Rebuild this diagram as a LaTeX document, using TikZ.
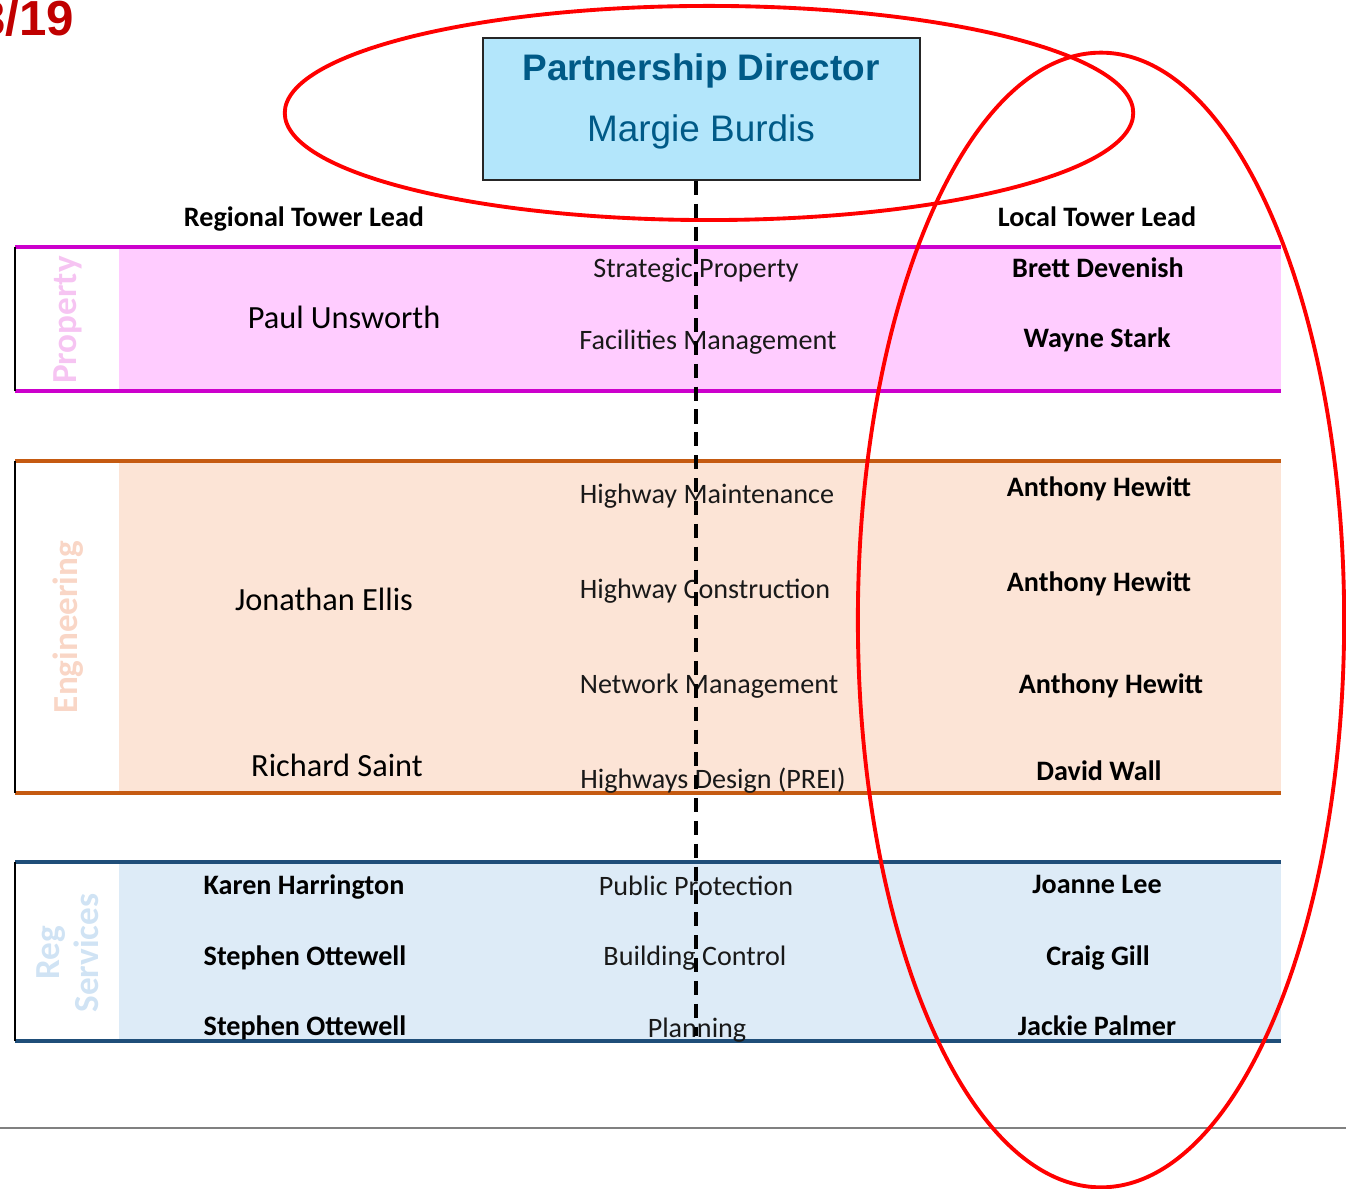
\documentclass[tikz,border=0pt]{standalone}
\usepackage{fontspec}
\setmainfont{Carlito}
\newfontfamily\arialfont{Liberation Sans}

\definecolor{propline}{HTML}{CC00CC}
\definecolor{propfill}{HTML}{FFCCFF}
\definecolor{proptext}{HTML}{F6C4F2}
\definecolor{engline}{HTML}{C55A11}
\definecolor{engfill}{HTML}{FCE4D6}
\definecolor{engtext}{HTML}{F9D6C6}
\definecolor{regline}{HTML}{1F4E79}
\definecolor{regfill}{HTML}{DDEBF7}
\definecolor{regtext}{HTML}{D0E3F4}
\definecolor{dirfill}{HTML}{B3E6FB}
\definecolor{dirtext}{HTML}{005A87}
\definecolor{pagered}{HTML}{C00000}

\begin{document}
\begin{tikzpicture}[x=0.01cm, y=-0.01cm,
    txt/.style={inner sep=0pt, text height=0.64em, text depth=0pt},
    person/.style={txt, font=\fontsize{9.2}{11}\selectfont},
    job/.style={txt, font=\fontsize{8}{10}\selectfont, text=black!90},
    lead/.style={txt, font=\bfseries\fontsize{8}{10}\selectfont},
    side/.style={inner sep=0pt, align=center, rotate=90, font=\bfseries\fontsize{10}{11}\selectfont},
    redring/.style={draw=red, line width=1.1pt}]

        \useasboundingbox (0,0) rectangle (1346,1189);

        %Page number
        \node [anchor=base east, inner sep=0pt, text=pagered, font=\arialfont\bfseries\fontsize{14}{14}\selectfont] (page) at (75,36) {3/19};

        %Drawing Property band
        \fill [propfill] (119,248) rectangle (1281,391);
        \draw [propline, line width=0.9pt] (15,247) -- (1281,247);
        \draw [propline, line width=0.9pt] (15,391) -- (1281,391);
        \draw [line width=0.6pt] (15,247) -- (15,391);
        \node [side, text=proptext] (sprop) at (68,320) {Property};

        %Drawing Engineering band
        \fill [engfill] (119,462) rectangle (1281,792);
        \draw [engline, line width=0.9pt] (15,461) -- (1281,461);
        \draw [engline, line width=0.9pt] (15,793) -- (1281,793);
        \draw [line width=0.6pt] (15,461) -- (15,793);
        \node [side, text=engtext] (seng) at (68,627) {Engineering};

        %Drawing Reg Services band
        \fill [regfill] (119,863) rectangle (1281,1040);
        \draw [regline, line width=0.9pt] (15,862) -- (1281,862);
        \draw [regline, line width=0.9pt] (15,1041) -- (1281,1041);
        \draw [line width=0.6pt] (15,862) -- (15,1041);
        \node [side, text=regtext] (sreg) at (68,953) {Reg\\Services};

        %Partnership Director
        \node [draw=black!85, line width=0.5pt, fill=dirfill, minimum width=4.37cm, minimum height=1.42cm] (dir) at (701.5,109) {};
        \node [txt, text=dirtext, font=\arialfont\bfseries\fontsize{10.5}{12}\selectfont] (dirhead) at (701,69) {Partnership Director};
        \node [txt, text=dirtext, font=\arialfont\fontsize{10.5}{12}\selectfont] (dirname) at (701,130) {Margie Burdis};

        %Column heads
        \node [lead] (reghead) at (304,215) {Regional Tower Lead};
        \node [lead] (lochead) at (1097,215) {Local Tower Lead};

        %Property
        \node [person] (paul) at (344,317) {Paul Unsworth};
        \node [job] (strat) at (696,266) {Strategic Property};
        \node [job] (facil) at (708,338) {Facilities Management};
        \node [lead] (brett) at (1098,266) {Brett Devenish};
        \node [lead] (wayne) at (1097,336) {Wayne Stark};

        %Engineering
        \node [person] (jon) at (324,599) {Jonathan Ellis};
        \node [person] (rich) at (337,765) {Richard Saint};
        \node [job] (hmaint) at (707,492) {Highway Maintenance};
        \node [job] (hcons) at (705,587) {Highway Construction};
        \node [job] (netman) at (709,682) {Network Management};
        \node [job] (hdes) at (713,777) {Highways Design (PREI)};
        \node [lead] (ant1) at (1099,485) {Anthony Hewitt};
        \node [lead] (ant2) at (1099,580) {Anthony Hewitt};
        \node [lead] (ant3) at (1111,682) {Anthony Hewitt};
        \node [lead] (david) at (1099,769) {David Wall};

        %Reg Services
        \node [lead] (karen) at (304,883) {Karen Harrington};
        \node [lead] (steph1) at (305,954) {Stephen Ottewell};
        \node [lead] (steph2) at (305,1024) {Stephen Ottewell};
        \node [job] (pubpro) at (696,884) {Public Protection};
        \node [job] (build) at (695,954) {Building Control};
        \node [job] (plan) at (697,1026) {Planning};
        \node [lead] (joanne) at (1097,882) {Joanne Lee};
        \node [lead] (craig) at (1098,954) {Craig Gill};
        \node [lead] (jackie) at (1097,1024) {Jackie Palmer};

        %Dashed line down from director, over the texts
        \coordinate (dashend) at (696,1036);
        \draw [line width=1pt, dash pattern=on 4pt off 2.5pt] (dir.south -| dashend) -- (dashend);

        %Footer rule
        \draw [black!50, line width=0.6pt] (0,1128) -- (1346,1128);

        %Red rings
        \draw [redring] (709,113) ellipse [x radius=4.24cm, y radius=1.07cm];
        \draw [redring] (1101,620) ellipse [x radius=2.43cm, y radius=5.67cm];

\end{tikzpicture}
\end{document}
